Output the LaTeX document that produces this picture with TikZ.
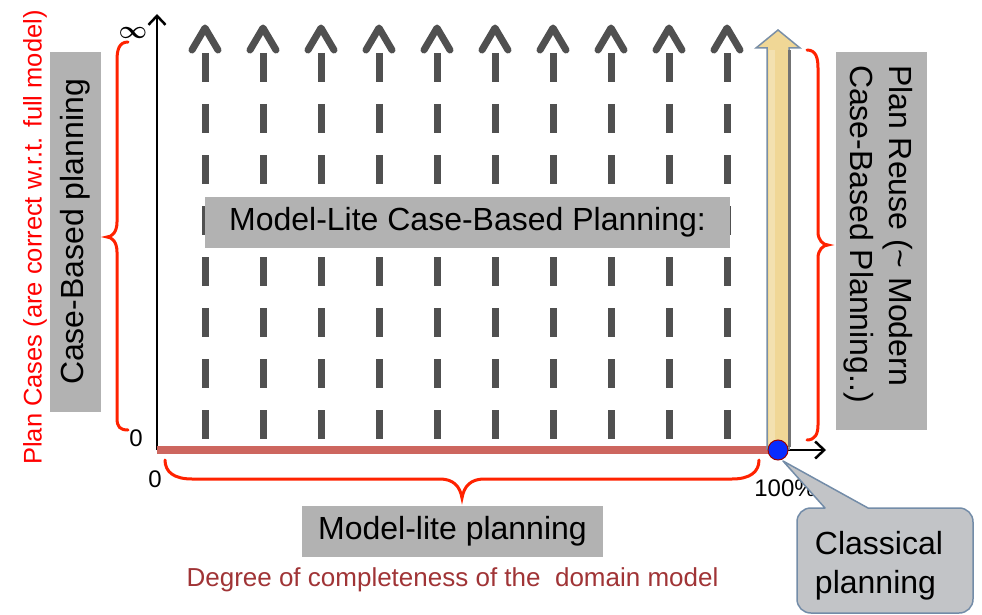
\documentclass[tikz,border=0pt]{standalone}
\usepackage{fontspec}
\setmainfont{Liberation Sans}
\usetikzlibrary{arrows.meta}

\definecolor{boxgray}{RGB}{178,178,178}
\definecolor{dashgray}{RGB}{80,80,80}
\definecolor{bracered}{RGB}{255,34,0}
\definecolor{barred}{RGB}{205,102,95}
\definecolor{plantext}{RGB}{255,0,0}
\definecolor{axistext}{RGB}{160,52,54}
\definecolor{tanfill}{RGB}{240,215,150}
\definecolor{tanedge}{RGB}{122,143,166}
\definecolor{dotblue}{RGB}{8,44,255}
\definecolor{calloutfill}{RGB}{194,196,199}
\definecolor{calloutedge}{RGB}{115,140,168}

\newcommand\lblbig{\fontsize{32}{39}\selectfont}
\newcommand\lblmid{\fontsize{25.5}{30}\selectfont}
\newcommand\lblaxis{\fontsize{24}{28}\selectfont}
\newcommand\lblinf{\fontsize{25}{30}\selectfont\boldmath}

\tikzset{
  graybox/.style={fill=boxgray, inner sep=0pt, font=\lblbig, text=black},
  dashline/.style={draw=dashgray, line width=7pt, dash pattern=on 29pt off 22pt},
  chevron/.style={draw=dashgray, line width=7pt, line cap=round, line join=round},
  bracestyle/.style={draw=bracered, line width=3pt, line cap=round},
  axisline/.style={draw=black, line width=2.5pt,
    -{Straight Barb[length=9pt, width=17pt]}},
  ticklbl/.style={font=\lblaxis, inner sep=0pt},
}

\begin{document}
\begin{tikzpicture}[x=1pt, y=-1pt]
\useasboundingbox (0,0) rectangle (982,615);

% named reference points
\coordinate (O) at (157,450);
\coordinate (ytop) at (157,14);
\coordinate (xend) at (826,450);
\coordinate (full) at (778,450);

% vertical label and the case-based box on the left
\node[font=\lblmid, text=plantext, rotate=90, inner sep=0pt] (plancases) at (35,237.5)
  {Plan Cases (are correct w.r.t. full model)};
\node[graybox, rotate=90, minimum width=360pt, minimum height=51pt] (cbp) at (75.5,232)
  {Case-Based planning};

% dashed upward arrows filling the plane
\foreach \x in {205,263,321,379,437,495,553,611,669,727} {
  \draw[dashline] (\x,53) -- (\x,440);
  \draw[chevron] (\x-13,50) -- (\x,28) -- (\x+13,50);
}

% central label over the dashed arrows
\node[graybox, minimum width=525pt, minimum height=51pt] (mlcbp) at (467.5,222.5)
  {Model-Lite Case-Based Planning:};

% axes
\draw[axisline] (O) -- (ytop);
\draw[axisline] (O) -- (xend);
\draw[draw=barred, line width=8.5pt] (O) -- (full);

% plan reuse column
\draw[draw=tanedge, fill=tanfill, line width=1.5pt, line join=miter]
  (767,449) -- (767,48) -- (756,48) -- (778,30) -- (800,48) -- (789,48) -- (789,449) -- cycle;
\draw[draw=black!55, line width=2.5pt] (789.5,50) -- (789.5,447);
\fill[white, opacity=0.25] (769,50) rectangle (775,447);

\node[circle, fill=dotblue, draw=red!60!black, line width=1pt, minimum size=20pt, inner sep=0pt]
  (dot) at (full) {};

% braces
\draw[bracestyle] (128,42) .. controls (119,42) and (117,50) .. (117,60) -- (117,222)
  .. controls (117,232) and (112,237) .. (107,237)
  .. controls (112,237) and (117,242) .. (117,252) -- (117,418)
  .. controls (117,427) and (120,430) .. (128,430);
\draw[bracestyle] (807,50) .. controls (816,50) and (818,58) .. (818,68) -- (818,232)
  .. controls (818,240) and (823,245) .. (828,245)
  .. controls (823,245) and (818,250) .. (818,258) -- (818,425)
  .. controls (818,434) and (815,440) .. (807,440);
\draw[bracestyle] (165,460) .. controls (165,472) and (174,479) .. (192,479) -- (440,479)
  .. controls (453,479) and (460,486) .. (462,498)
  .. controls (464,486) and (471,479) .. (484,479) -- (732,479)
  .. controls (750,479) and (759,472) .. (759,460);

% right hand label
\node[graybox, rotate=-90, minimum width=378pt, minimum height=91pt] (prbox) at (881.5,241) {};
\node[font=\lblbig, rotate=-90, align=left, inner sep=0pt] (prtext) at (878,234)
  {Plan Reuse (\textasciitilde{} Modern\\Case-Based Planning..)};

% axis tick labels
\node[inner sep=0pt, font=\lblinf] (inf) at (133,33) {$\infty$};
\node[ticklbl] (y0) at (136,438) {0};
\node[ticklbl] (x0) at (155,479) {0};
\node[ticklbl] (x100) at (785,488) {100\%};

% bottom labels
\node[graybox, minimum width=301pt, minimum height=51pt] (mlp) at (452.5,531.5)
  {Model-lite planning};
\node[font=\fontsize{26}{30}\selectfont, text=axistext, inner sep=0pt] (degree) at (452.5,580)
  {Degree of completeness of the \ domain model};

% callout pointing at the full-model point
\draw[draw=calloutedge, fill=calloutfill, line width=1.5pt, line join=round]
  (868,508) -- (959,508) .. controls (967,508) and (973,514) .. (973,522)
  -- (973,599) .. controls (973,607) and (967,613) .. (959,613)
  -- (811,613) .. controls (803,613) and (797,607) .. (797,599)
  -- (797,522) .. controls (797,514) and (803,508) .. (811,508)
  -- (825,508) -- (783,461) -- cycle;
\node[font=\lblbig, align=left, inner sep=0pt] (classical) at (879,566)
  {Classical\\planning};
\end{tikzpicture}
\end{document}
